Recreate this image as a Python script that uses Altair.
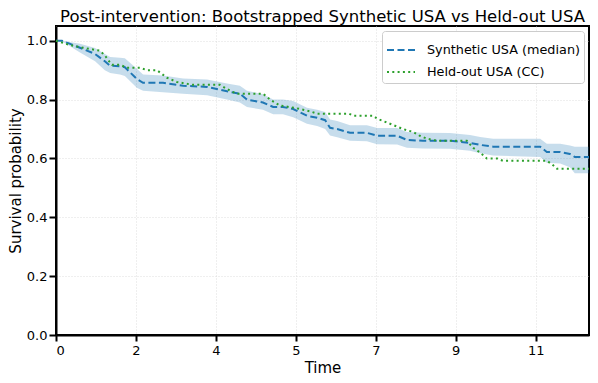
import altair as alt
import pandas as pd

# Synthetic USA (bootstrapped median) with band
med_t = [0, 0.135, 0.54, 0.88, 1.10, 1.22, 1.44, 1.55, 1.82, 1.96, 2.41, 2.86, 3.40, 3.85, 4.14, 4.30,
         4.66, 4.89, 5.11, 5.34, 5.65, 5.88, 6.06, 6.17, 6.33, 6.62, 7.00, 7.23, 7.68, 7.90, 8.26, 8.87,
         9.32, 9.55, 9.84, 10.90, 11.05, 11.35, 11.57, 11.68, 12.0]
med_s = [1.0, 1.0, 0.976, 0.955, 0.93, 0.915, 0.913, 0.91, 0.87, 0.857, 0.857, 0.847, 0.843, 0.828, 0.82, 0.80,
         0.79, 0.775, 0.775, 0.768, 0.745, 0.738, 0.73, 0.704, 0.70, 0.687, 0.687, 0.677, 0.677, 0.663, 0.66, 0.66,
         0.653, 0.646, 0.64, 0.64, 0.622, 0.622, 0.615, 0.605, 0.605]
band_hi = [1.0, 1.0, 0.99, 0.975, 0.955, 0.945, 0.942, 0.94, 0.905, 0.885, 0.882, 0.872, 0.868, 0.855, 0.847, 0.83,
           0.818, 0.80, 0.80, 0.795, 0.772, 0.765, 0.758, 0.732, 0.727, 0.713, 0.713, 0.703, 0.703, 0.69, 0.687, 0.686,
           0.68, 0.673, 0.667, 0.667, 0.65, 0.65, 0.644, 0.64, 0.64]
band_lo = [1.0, 0.998, 0.96, 0.93, 0.90, 0.89, 0.885, 0.88, 0.84, 0.83, 0.825, 0.82, 0.815, 0.80, 0.79, 0.775,
           0.765, 0.75, 0.75, 0.74, 0.718, 0.71, 0.70, 0.678, 0.672, 0.66, 0.658, 0.648, 0.647, 0.636, 0.634, 0.633,
           0.626, 0.618, 0.61, 0.605, 0.585, 0.583, 0.57, 0.55, 0.55]

# Held-out USA (CC)
held_t = [0, 0.32, 0.61, 0.99, 1.10, 1.17, 1.26, 1.44, 1.60, 1.89, 2.05, 2.27, 2.50, 2.72, 3.08, 3.69,
          3.92, 4.07, 4.66, 4.82, 5.04, 5.43, 5.72, 5.88, 6.60, 6.70, 7.14, 7.23, 7.52, 7.81, 8.04, 8.19,
          8.35, 8.58, 9.25, 9.39, 9.55, 9.70, 9.93, 10.06, 11.05, 11.17, 11.28, 12.0]
held_s = [1.0, 0.985, 0.976, 0.966, 0.95, 0.935, 0.918, 0.918, 0.908, 0.908, 0.90, 0.90, 0.874, 0.86, 0.85, 0.85,
          0.83, 0.82, 0.82, 0.80, 0.78, 0.77, 0.76, 0.752, 0.752, 0.745, 0.745, 0.735, 0.718, 0.70, 0.69, 0.677,
          0.667, 0.66, 0.66, 0.636, 0.62, 0.60, 0.60, 0.592, 0.592, 0.58, 0.565, 0.565]

x_ticks = [0, 1.8, 3.6, 5.4, 7.2, 9.0, 10.8]
y_ticks = [0.0, 0.2, 0.4, 0.6, 0.8, 1.0]
series_names = ["Synthetic USA (median)", "Held-out USA (CC)"]

band_df = pd.DataFrame({"t": med_t, "lo": band_lo, "hi": band_hi})
lines_df = pd.concat([
    pd.DataFrame({"t": med_t, "s": med_s, "series": series_names[0]}),
    pd.DataFrame({"t": held_t, "s": held_s, "series": series_names[1]}),
])

FONT = "DejaVu Sans"
xscale = alt.Scale(domain=[0, 12], nice=False, zero=False)
yscale = alt.Scale(domain=[0, 1.05], nice=False)

x_axis = alt.Axis(values=x_ticks, format=".0f", title="Time", tickSize=6, labelPadding=3, titlePadding=3)
y_axis = alt.Axis(values=y_ticks, format=".1f", title="Survival probability", tickSize=7, labelPadding=2,
                  titlePadding=3)

band = alt.Chart(band_df).mark_area(color="#1f77b4", opacity=0.25).encode(
    x=alt.X("t:Q", scale=xscale, axis=x_axis),
    y=alt.Y("lo:Q", scale=yscale, axis=y_axis),
    y2="hi:Q",
)

leg = alt.Legend(title=None, orient="top-right", symbolType="stroke")
lines = alt.Chart(lines_df).mark_line(strokeWidth=2).encode(
    x=alt.X("t:Q", scale=xscale, axis=x_axis),
    y=alt.Y("s:Q", scale=yscale, axis=y_axis),
    color=alt.Color("series:N", scale=alt.Scale(domain=series_names, range=["#1f77b4", "#2ca02c"]), legend=leg),
    strokeDash=alt.StrokeDash("series:N", scale=alt.Scale(domain=series_names, range=[[7, 3.5], [2, 3.3]]),
                              legend=leg),
    order="t:Q",
)

chart = alt.layer(band, lines).properties(
    width=533,
    height=309,
    autosize=alt.AutoSizeParams(type="none"),
    padding={"left": 48, "top": 18, "right": 1, "bottom": 40},
    title=alt.Title("Post-intervention: Bootstrapped Synthetic USA vs Held-out USA",
                    fontSize=16.5, fontWeight="normal", font=FONT, color="black", offset=0.5),
).configure_view(
    stroke="black", strokeWidth=2
).configure_axis(
    labelFont=FONT, titleFont=FONT, labelFontSize=13, titleFontSize=15, titleFontWeight="normal",
    labelColor="black", titleColor="black",
    domainColor="black", domainWidth=2, tickColor="black", tickWidth=2,
    gridColor="#d5d5d5", gridDash=[1, 2], gridWidth=0.8,
).configure_legend(
    labelFont=FONT, labelFontSize=12.8, labelColor="black", fillColor="white",
    strokeColor="#cccccc", cornerRadius=3, padding=4, offset=5, symbolSize=784,
    symbolStrokeWidth=2, rowPadding=-12, labelOffset=11,
)

chart.save("out.html", embed_options={"renderer": "svg", "actions": False})
